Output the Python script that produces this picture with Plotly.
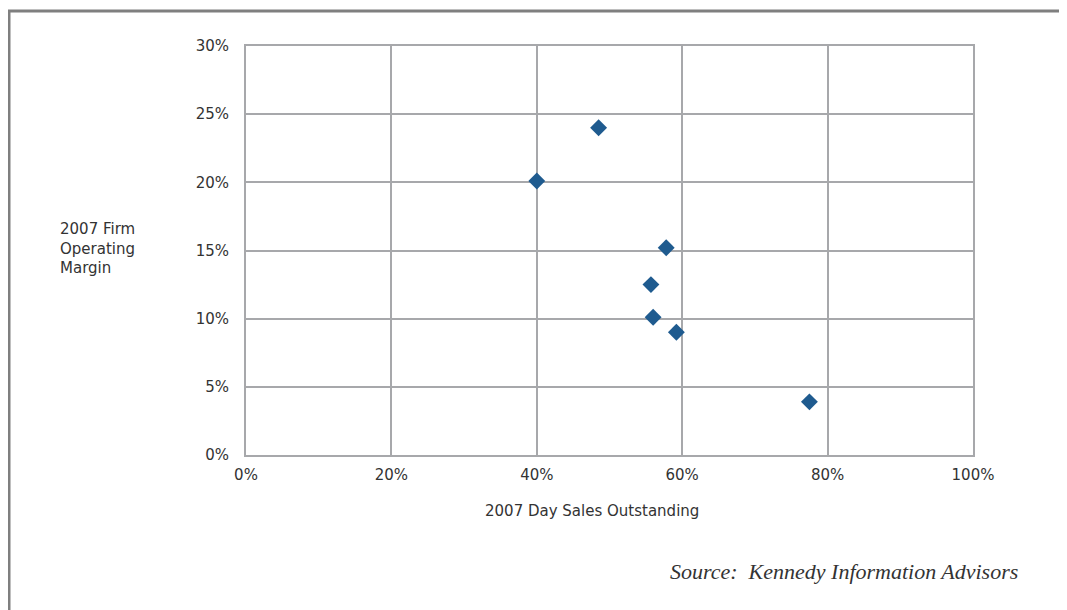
import plotly.graph_objects as go

dso = [48.5, 40.0, 57.8, 55.7, 56.0, 59.2, 77.5]
margin = [24.0, 20.1, 15.2, 12.5, 10.1, 9.0, 3.9]
x_ticks = [0, 20, 40, 60, 80, 100]
y_ticks = [0, 5, 10, 15, 20, 25, 30]

grid = "#a7a8ab"
fig = go.Figure()
fig.add_trace(go.Scatter(
    x=dso, y=margin, mode="markers",
    marker=dict(symbol="diamond", size=13, color="#1f5b8f", line=dict(width=0)),
    hoverinfo="x+y", showlegend=False,
))

font = dict(family="DejaVu Sans, sans-serif", size=15, color="#333333")
fig.update_layout(
    width=1067, height=602,
    margin=dict(l=238, r=102, t=38, b=155),
    paper_bgcolor="white", plot_bgcolor="white",
    font=font,
    xaxis=dict(range=[0, 100], tickvals=x_ticks, ticktext=[f"{v}%" for v in x_ticks],
               showgrid=True, gridcolor=grid, gridwidth=2, zeroline=False,
               showline=True, linecolor=grid, linewidth=2, mirror=True,
               ticks="", ticklabelstandoff=5, fixedrange=True),
    yaxis=dict(range=[0, 30], tickvals=y_ticks, ticktext=[f"{v}%" for v in y_ticks],
               showgrid=True, gridcolor=grid, gridwidth=2, zeroline=False,
               showline=True, linecolor=grid, linewidth=2, mirror=True,
               ticks="", ticklabelstandoff=12, fixedrange=True),
    shapes=[dict(type="rect", xref="paper", yref="paper",
                 x0=-0.326, x1=1.3, y0=-0.6, y1=1.0856,
                 line=dict(color="#7f7f7f", width=3), fillcolor="rgba(0,0,0,0)",
                 layer="below")],
    annotations=[
        dict(text="2007 Firm<br>Operating<br>Margin", xref="paper", yref="paper",
             x=-0.2586, y=0.504, xanchor="left", yanchor="middle", align="left",
             showarrow=False, font=font),
        dict(text="2007 Day Sales Outstanding", xref="paper", yref="paper",
             x=0.476, y=-0.137, xanchor="center", yanchor="middle",
             showarrow=False, font=font),
        dict(text="Source:  Kennedy Information Advisors", xref="paper", yref="paper",
             x=1.0646, y=-0.286, xanchor="right", yanchor="middle",
             showarrow=False,
             font=dict(family="Liberation Serif, Times New Roman, serif", size=22,
                       color="#333333", style="italic")),
    ],
)
fig.write_html("out.html")
